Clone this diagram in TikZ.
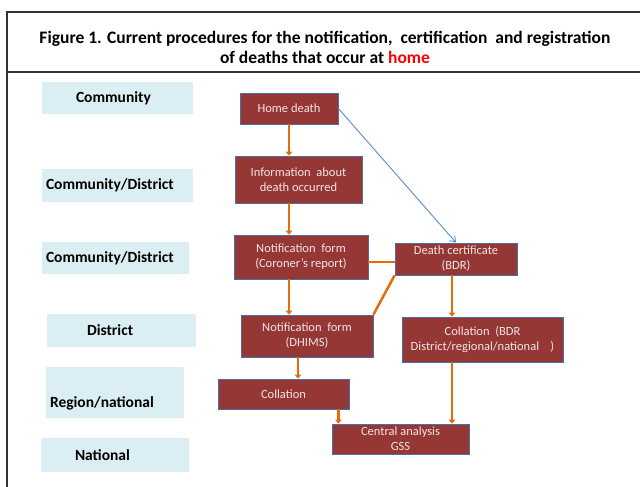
\documentclass[tikz,border=0pt]{standalone}
\usepackage{fontspec}
\setmainfont{Carlito}
\usepackage{xcolor}
\usetikzlibrary{positioning, arrows.meta}
\definecolor{stagered}{HTML}{953735}
\definecolor{stageedge}{HTML}{4A6FA5}
\definecolor{stagetext}{HTML}{F5E4E3}
\definecolor{levelblue}{HTML}{DAEEF3}
\definecolor{floworange}{HTML}{E46C0A}
\definecolor{hintblue}{HTML}{5B8BC9}
\definecolor{homered}{HTML}{FF0000}
\definecolor{framegray}{HTML}{333333}

\begin{document}
\begin{tikzpicture}[x=1pt, y=1pt,
  stage/.style={rectangle, draw=stageedge, line width=0.8pt, fill=stagered, text=stagetext, align=center, inner sep=1pt, font=\fontsize{12.5}{15}\selectfont},
  level/.style={rectangle, fill=levelblue, align=left, inner xsep=4pt, font=\bfseries\fontsize{15.5}{18}\selectfont},
  flow/.style={draw=floworange, line width=2.5pt, -{Triangle[length=4pt, width=6.5pt]}},
  link/.style={draw=floworange, line width=2.5pt},
  hint/.style={draw=hintblue, line width=0.9pt, -{Straight Barb[length=5pt, width=7pt]}},
  frame/.style={draw=framegray, line width=1.6pt}]
\useasboundingbox (0,0) rectangle (640,487);
\draw[frame] (645,475) -- (7,475) -- (7,-5);
\draw[frame] (7,415) -- (645,415);
\node (title) [align=center, font=\bfseries\fontsize{17.5}{20}\selectfont] at (325,440) {Figure 1. Current procedures for the notification,\ \ certification\ \ and registration\\of deaths that occur at \textcolor{homered}{home}};

\node (lcommunity) [level, text width=143pt, minimum height=32pt] at (117.5,389) {\hspace*{30pt}Community};
\node (lcomdistone) [level, text width=143pt, minimum height=33pt] at (117.5,301.5) {Community/District};
\node (lcomdisttwo) [level, text width=139pt, minimum height=32pt] at (115.5,229) {Community/District};
\node (ldistrict) [level, text width=141pt, minimum height=33pt] at (121.5,156.5) {\hspace*{36pt}District};
\node (lregion) [level, text width=130pt, inner ysep=0pt, text height=41pt, text depth=10pt] at (115,94.5) {Region/national};
\node (lnational) [level, text width=140pt, minimum height=34pt] at (115,32) {\hspace*{30pt}National};

\node (home) [stage, minimum width=98pt, minimum height=31pt] at (289,378.5) {Home death};
\node (info) [stage, minimum width=127pt, minimum height=47pt] at (298.5,307.5) {Information\ \ about\\death occurred};
\node (coroner) [stage, minimum width=134pt, minimum height=44pt] at (301,230) {Notification\ \ form\\(Coroner's report)};
\node (deathcert) [stage, minimum width=122pt, minimum height=32pt] at (456,228) {Death certificate\\(BDR)};
\node (dhims) [stage, minimum width=132pt, minimum height=42pt] at (307,151) {Notification\ \ form\\(DHIMS)};
\node (bdrcoll) [stage, minimum width=161pt, minimum height=45pt] at (482.5,147.5) {Collation\ \ (BDR\\District/regional/national\ \ \ \ )};
\node (collation) [stage, minimum width=131pt, minimum height=30pt] at (283.5,93) {Collation};
\node (central) [stage, minimum width=137pt, minimum height=30pt] at (400.5,48) {Central analysis\\GSS};

\draw[flow] (home.south) -- (home.south |- info.north);
\draw[flow] (info.south -| home.south) -- (coroner.north -| home.south);
\draw[flow] (coroner.south -| home.south) -- (dhims.north -| home.south);
\draw[link] ([yshift=-3pt]deathcert.west) -- ([yshift=-3pt]deathcert.west -| coroner.east);
\draw[link] (deathcert.south west) -- (dhims.north east);
\draw[flow] ([xshift=-4pt]deathcert.south) -- ([xshift=-4pt]deathcert.south |- bdrcoll.north);
\draw[flow] ([xshift=-9pt]dhims.south) -- ([xshift=-9pt]dhims.south |- collation.north);
\draw[flow] ([xshift=-11pt]collation.south east) -- ([xshift=-11pt]collation.south east |- central.north);
\draw[flow] ([xshift=-4pt]deathcert.south |- bdrcoll.south) -- ([xshift=-4pt]deathcert.south |- central.north);
\draw[hint] (home.east) -- (deathcert.north);
\end{tikzpicture}
\end{document}
